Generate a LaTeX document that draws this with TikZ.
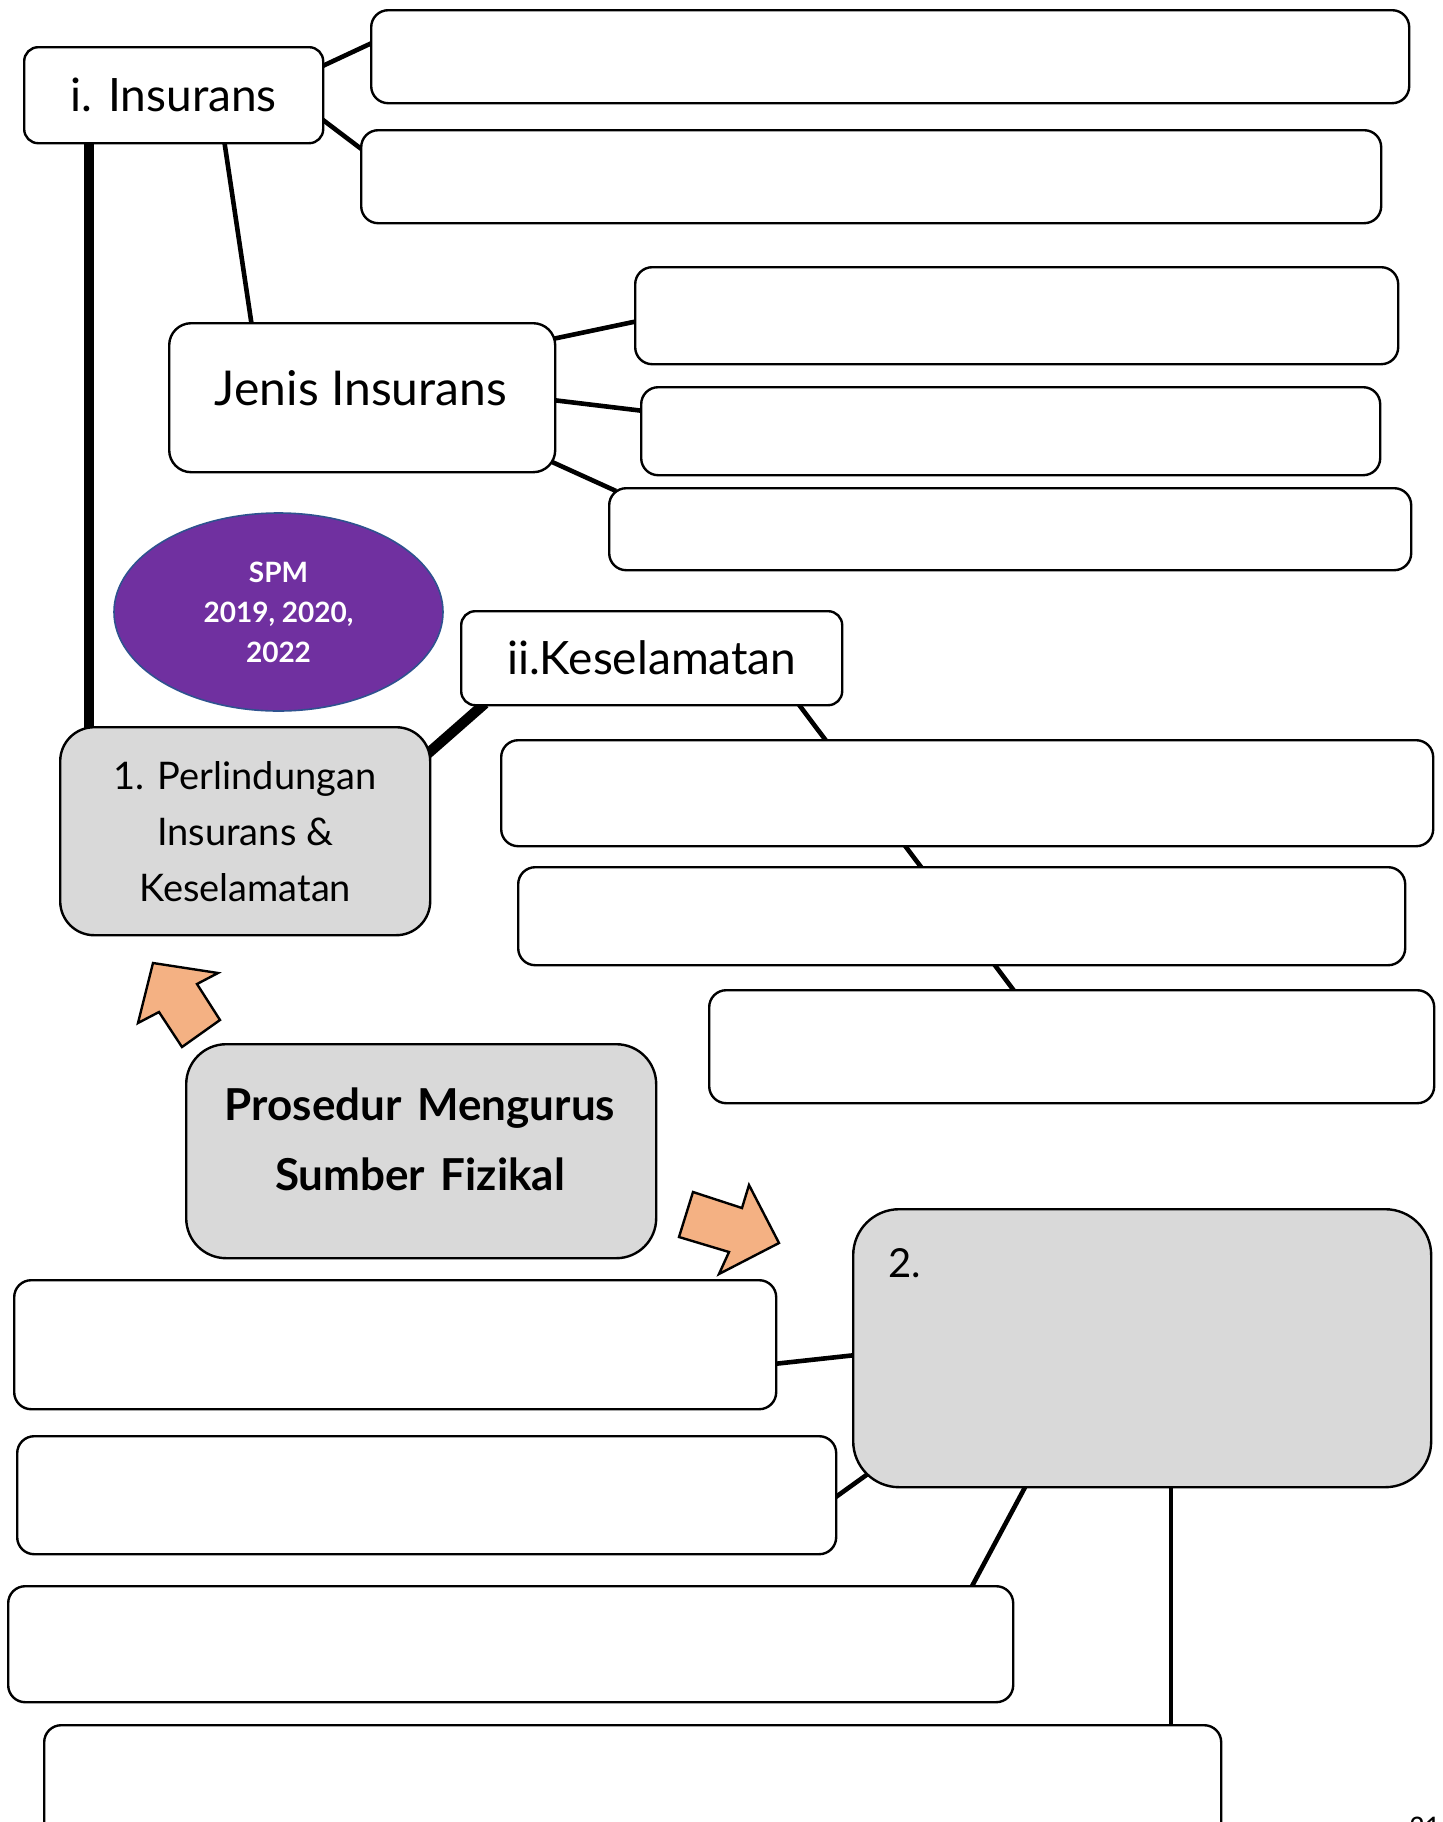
\documentclass[tikz,border=0pt]{standalone}
\usepackage{fontspec}
\setmainfont{Lato}
\newfontfamily\pagefont{Carlito}
\usetikzlibrary{shapes.geometric,backgrounds}
\definecolor{grayfill}{HTML}{D9D9D9}
\definecolor{spmpurple}{HTML}{7030A0}
\definecolor{spmblue}{HTML}{2F528F}
\definecolor{arroworange}{HTML}{F4B183}
\begin{document}
\begin{tikzpicture}[x={(0.5pt,0)}, y={(0,-0.5pt)},
  emptybox/.style={draw, line width=1.2pt, fill=white, rounded corners=8.5pt, anchor=north west, inner sep=0pt},
  labelbox/.style={emptybox, rounded corners=7pt, align=center},
  greybox/.style={emptybox, fill=grayfill, align=center},
  txt/.style={inner sep=0pt, align=center},
  conn/.style={line width=2.3pt},
  thickconn/.style={line width=5.2pt},
  blockarrow/.style={draw, line width=1.2pt, fill=arroworange, line join=miter}
]
\useasboundingbox (0,0) rectangle (1442,1822);

% label boxes
\node[labelbox, minimum width=149.5pt, minimum height=48pt, font=\fontsize{23}{28}\selectfont] (ins) at (23,46) {i. Insurans};
\node[labelbox, rounded corners=11pt, minimum width=193pt, minimum height=74.5pt] (jen) at (168,322) {};
\node[txt, font=\fontsize{24}{28}\selectfont] (jentext) at (361,388) {Jenis Insurans};
\node[labelbox, minimum width=190.5pt, minimum height=47pt, font=\fontsize{23}{28}\selectfont] (kes) at (460,610) {ii.Keselamatan};

% empty boxes
\node[emptybox, minimum width=519pt, minimum height=46.5pt] (t1) at (370,9) {};
\node[emptybox, minimum width=510pt, minimum height=46.5pt] (t2) at (360,129) {};
\node[emptybox, minimum width=381.5pt, minimum height=48.5pt] (j1) at (634,266) {};
\node[emptybox, minimum width=369.5pt, minimum height=44pt] (j2) at (640,386) {};
\node[emptybox, minimum width=401pt, minimum height=41pt] (j3) at (608,487) {};
\node[emptybox, minimum width=466pt, minimum height=53pt] (k1) at (500,739) {};
\node[emptybox, minimum width=443.5pt, minimum height=49pt] (k2) at (517,866) {};
\node[emptybox, minimum width=362.5pt, minimum height=56.5pt] (k3) at (708,989) {};
\node[emptybox, minimum width=381pt, minimum height=64.5pt] (l1) at (13,1279) {};
\node[emptybox, minimum width=409.5pt, minimum height=59pt] (l2) at (16,1435) {};
\node[emptybox, minimum width=502.5pt, minimum height=58pt] (l3) at (7,1585) {};
\node[emptybox, minimum width=588.5pt, minimum height=66pt] (l4) at (43,1724) {};

% grey boxes
\node[greybox, rounded corners=17pt, minimum width=185pt, minimum height=104pt, font=\fontsize{19}{28}\selectfont] (perl) at (59,726) {1. Perlindungan\\Insurans \&\\Keselamatan};
\node[greybox, rounded corners=20pt, minimum width=235pt, minimum height=107pt] (pros) at (185,1043) {};
\node[txt, font=\bfseries\fontsize{22}{35}\selectfont] (prostext) at (420,1139) {Prosedur\hspace{0.35em}Mengurus\\Sumber\hspace{0.35em}Fizikal};
\node[greybox, rounded corners=23pt, minimum width=289pt, minimum height=139pt] (two) at (852,1208) {};
\node[txt, anchor=north west, font=\fontsize{20}{24}\selectfont] (twotext) at (888,1248) {2.};

% SPM ellipse
\node[ellipse, draw=spmblue, line width=0.8pt, fill=spmpurple, minimum width=164.5pt, minimum height=99pt, inner sep=0pt, text=white, align=center, font=\bfseries\fontsize{14}{20}\selectfont] (spm) at (278.5,612) {SPM\\2019, 2020,\\2022};

% block arrows
\draw[blockarrow] (153,963) -- (218,973) -- (197,984) -- (220,1020) -- (182,1047) -- (159,1012) -- (138,1023) -- cycle;
\draw[blockarrow] (749,1185) -- (779,1243) -- (719,1274) -- (729,1252) -- (679,1237) -- (693,1192) -- (742,1208) -- cycle;

% page number
\node[anchor=base west, inner sep=0pt, font=\pagefont\fontsize{15}{18}\selectfont] (pg) at (1409,1836) {21};

% connectors
\begin{pgfonlayer}{background}
\draw[thickconn] ([shift={(66,-5)}]ins.south west) -- ([shift={(30,5)}]perl.north west);
\draw[conn] ([shift={(201,-5)}]ins.south west) -- ([shift={(84,5)}]jen.north west);
\draw[conn] ([shift={(-4,21)}]ins.north east) -- ([shift={(4,33)}]t1.north west);
\draw[conn] ([shift={(-4,72)}]ins.north east) -- ([shift={(4,22)}]t2.north west);
\draw[conn] ([shift={(-4,17)}]jen.north east) -- ([shift={(4,55)}]j1.north west);
\draw[conn] ([shift={(-4,78)}]jen.north east) -- ([shift={(4,25)}]j2.north west);
\draw[conn] ([shift={(-10,-14)}]jen.south east) -- ([shift={(8,4)}]j3.north west);
\draw[thickconn] ([shift={(-4,28)}]perl.north east) -- ([shift={(25,-3)}]kes.south west);
\draw[conn] ([shift={(338,-3)}]kes.south west) -- ([shift={(307,3)}]k3.north west);
\draw[conn] ([shift={(-4,85)}]l1.north east) -- ([shift={(4,147)}]two.north west);
\draw[conn] ([shift={(-3,63)}]l2.north east) -- ([shift={(18,-16)}]two.south west);
\draw[conn] ([shift={(964,3)}]l3.north west) -- ([shift={(174,-3)}]two.south west);
\draw[conn] ([shift={(1128,3)}]l4.north west) -- ([shift={(319,-5)}]two.south west);
\end{pgfonlayer}
\end{tikzpicture}
\end{document}
